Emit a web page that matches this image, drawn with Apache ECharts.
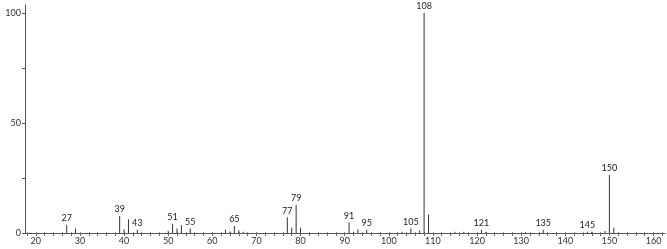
<!DOCTYPE html>
<html><head><meta charset="utf-8">
<script src="https://cdn.jsdelivr.net/npm/echarts@6/dist/echarts.min.js"></script>
<style>html,body{margin:0;padding:0;background:#fff}#c{width:667px;height:249px}</style>
</head><body><div id="c"></div>
<script>
// m/z values and relative intensities
const mz =        [27, 29, 39, 40, 41, 43, 50, 51, 52, 53, 55, 63, 64, 65, 66, 67, 77, 78, 79, 80, 91, 92, 93, 95, 103, 105, 107, 108, 109, 115, 117, 121, 122, 131, 135, 145, 146, 149, 150, 151];
const intensity = [3.6, 2, 7.7, 1.6, 6.2, 1.5, 1, 4.2, 2, 3.5, 2, 1.5, 0.7, 3.2, 1.2, 0.6, 7.2, 2.4, 12.8, 2.4, 4.8, 0.6, 1.6, 1.5, 0.6, 2.1, 1.2, 100, 8.4, 0.6, 0.6, 1.5, 0.6, 0.3, 1.5, 0.6, 0.6, 0.9, 26.5, 2.4];
const labeledPeaks = [27, 39, 43, 51, 55, 65, 77, 79, 91, 95, 105, 108, 121, 135, 145, 150];
const xTickValues = [];
for (let v = 18; v <= 162; v += 2) xTickValues.push(v);
const xLabelValues = [20, 30, 40, 50, 60, 70, 80, 90, 100, 110, 120, 130, 140, 150, 160];
const yTickValues = [0, 25, 50, 75, 100];
const yLabelValues = [0, 50, 100];

const chart = echarts.init(document.getElementById('c'));
const data = mz.map((m, i) => ({
  value: [m, intensity[i]],
  label: { show: labeledPeaks.includes(m) }
}));
const axisColor = '#555';
const xMin = 17.55, xMax = 162.6;
chart.setOption({
  animation: false,
  grid: { left: 25, right: 2, top: 5, bottom: 16 },
  xAxis: [{
    type: 'value', min: xMin, max: xMax,
    axisLine: { lineStyle: { color: axisColor, width: 1 } },
    axisTick: { length: 3, lineStyle: { color: '#666' }, customValues: xTickValues },
    axisLabel: { customValues: xLabelValues, color: '#333', fontSize: 9, fontFamily: 'Lato', margin: 4 },
    splitLine: { show: false }
  }, {
    type: 'value', min: xMin, max: xMax, position: 'bottom',
    axisLine: { show: false },
    axisTick: { inside: true, length: 1, lineStyle: { color: '#888' }, customValues: xTickValues },
    axisLabel: { show: false },
    splitLine: { show: false }
  }],
  yAxis: {
    type: 'value', min: 0, max: 103.6,
    axisLine: { show: true, lineStyle: { color: axisColor, width: 1 } },
    axisTick: { show: true, length: 3, lineStyle: { color: axisColor }, customValues: yTickValues },
    axisLabel: { customValues: yLabelValues, color: '#333', fontSize: 9, fontFamily: 'Lato', margin: 4 },
    splitLine: { show: false }
  },
  series: [{
    type: 'bar', barWidth: 1, data: data,
    itemStyle: { color: '#333' },
    label: { position: 'top', distance: 2, color: '#222', fontSize: 9, fontFamily: 'Lato',
      formatter: p => p.value[0] }
  }]
});
</script></body></html>
